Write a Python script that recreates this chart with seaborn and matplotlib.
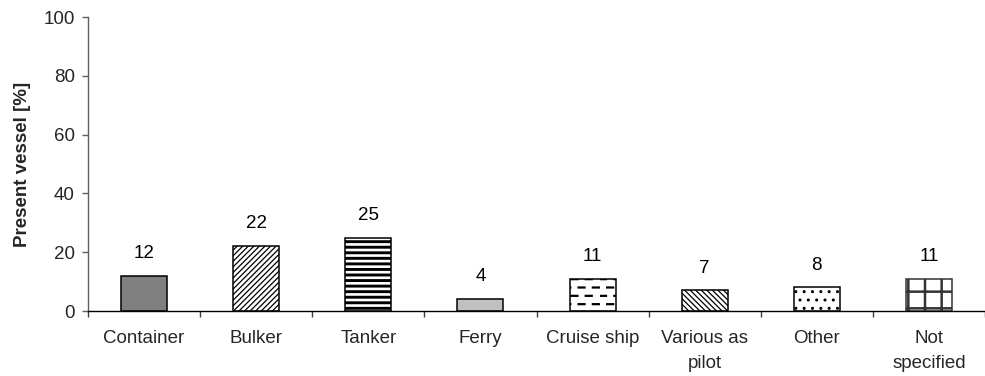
import warnings
import numpy as np
import pandas as pd
import matplotlib
matplotlib.use("Agg")
import matplotlib.pyplot as plt
from matplotlib import hatch as mhatch
from matplotlib.path import Path
from matplotlib.ticker import FixedLocator, NullFormatter
import seaborn as sns

warnings.filterwarnings("ignore")

categories = ["Container", "Bulker", "Tanker", "Ferry", "Cruise ship",
              "Various as\npilot", "Other", "Not\nspecified"]
values = [12, 22, 25, 4, 11, 7, 8, 11]
y_ticks = [0, 20, 40, 60, 80, 100]

face_colors = ["#808080", "white", "white", "#c0c0c0", "white", "white", "white", "white"]
hatches = [None, "//////", "---", None, "dd", "\\\\\\\\\\\\", "..", "+"]
hatch_widths = [1.0, 0.9, 2.1, 1.0, 1.6, 0.9, 1.0, 1.8]


class DashedRowsHatch(mhatch.HatchPatternBase):
    """Staggered rows of short horizontal dashes, selected with 'd'."""

    def __init__(self, hatch, density):
        self.num_rows = int(hatch.count("d") * density)
        self.per_row = int(round(self.num_rows * 0.6))
        self.num_vertices = self.num_rows * self.per_row * 2

    def set_vertices_and_codes(self, vertices, codes):
        n, m = self.num_rows, self.per_row
        if n == 0:
            return
        dy = 1.0 / n
        dx = 1.0 / m
        dash = 0.42 * dx
        i = 0
        for r in range(n):
            y = r * dy + dy / 2
            off = (r % 2) * dx / 2
            for c in range(m):
                x0 = (c * dx + off) % 1.0
                vertices[i] = (x0, y)
                vertices[i + 1] = (x0 + dash, y)
                codes[i] = Path.MOVETO
                codes[i + 1] = Path.LINETO
                i += 2


mhatch._hatch_types.append(DashedRowsHatch)

sns.set_theme(style="white")
plt.rcParams["font.family"] = ["Liberation Sans", "DejaVu Sans"]
plt.rcParams["hatch.color"] = "black"

FS = 13.5

df = pd.DataFrame({"vessel": categories, "share": values})

fig = plt.figure(figsize=(9.85, 3.76), dpi=100)
ax = fig.add_axes([88 / 985, 1 - 311 / 376, 897 / 985, 294 / 376])

sns.barplot(data=df, x="vessel", y="share", hue="vessel", palette=face_colors,
            legend=False, width=0.41, edgecolor="black", linewidth=1.1,
            saturation=1, ax=ax)

for bar_container, h, lw in zip(ax.containers, hatches, hatch_widths):
    for patch in bar_container:
        if h:
            patch.set_hatch(h)
            try:
                patch.set_hatch_linewidth(lw)
            except AttributeError:
                pass
        if h == "+":
            patch.set_edgecolor("#333333")
    ax.bar_label(bar_container, fmt="%d", padding=10, fontsize=FS, color="black")

ax.set_xlim(-0.5, len(categories) - 0.5)
ax.set_ylim(0, 100)
ax.set_yticks(y_ticks)
ax.set_yticklabels([str(t) for t in y_ticks], fontsize=FS)
ax.set_xlabel("")
ax.set_ylabel("Present vessel [%]", fontsize=FS, fontweight="bold", labelpad=9)

# category labels without marks; short marks at the category boundaries
ax.tick_params(axis="x", which="major", length=0, pad=14, labelsize=FS)
for lbl in ax.get_xticklabels():
    lbl.set_linespacing(1.55)
ax.xaxis.set_minor_locator(FixedLocator(np.arange(-0.5, len(categories), 1.0)))
ax.xaxis.set_minor_formatter(NullFormatter())
ax.tick_params(axis="x", which="minor", length=4.5, width=1, color="#404040",
               direction="out", bottom=True)
ax.tick_params(axis="y", length=4.5, width=1, color="#606060", direction="out",
               left=True, pad=5)

sns.despine(ax=ax, top=True, right=True)
ax.spines["left"].set_color("#606060")
ax.spines["bottom"].set_color("black")
ax.spines["left"].set_linewidth(1)
ax.spines["bottom"].set_linewidth(1)

fig.savefig("out.png", dpi=100)
